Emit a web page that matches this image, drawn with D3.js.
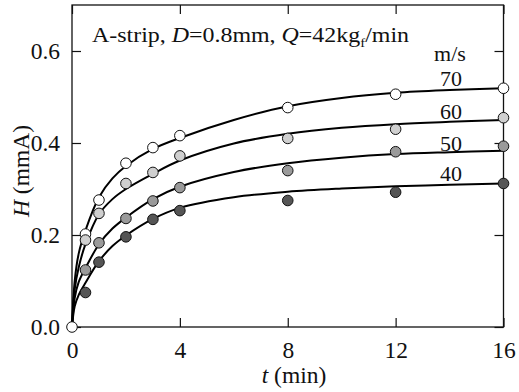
<!DOCTYPE html>
<html><head><meta charset="utf-8">
<script src="https://cdn.jsdelivr.net/npm/d3@7/dist/d3.min.js"></script>
<style>body{margin:0;background:#fff}svg{display:block}</style>
</head><body><svg id="c" width="519" height="392"></svg>
<script>
// ---- data ----
const speeds = ["70", "60", "50", "40"];
const fills = ["#ffffff", "#cfcfcf", "#9a9a9a", "#555555"];
const tPoints = [0.5, 1, 2, 3, 4, 8, 12, 16];
const h70 = [0.202, 0.276, 0.356, 0.390, 0.416, 0.477, 0.506, 0.519];
const h60 = [0.189, 0.247, 0.312, 0.336, 0.372, 0.410, 0.430, 0.455];
const h50 = [0.124, 0.183, 0.236, 0.274, 0.303, 0.340, 0.381, 0.393];
const h40 = [0.075, 0.141, 0.196, 0.234, 0.253, 0.275, 0.293, 0.312];
const originPoint = [0, 0];
// fitted curves
const tCurve = [0, 0.1, 0.25, 0.5, 1, 1.5, 2, 3, 4, 6, 8, 10, 12, 14, 16];
const c70 = [0, 0.100, 0.160, 0.210, 0.282, 0.323, 0.350, 0.387, 0.411, 0.450, 0.480, 0.498, 0.509, 0.515, 0.519];
const c60 = [0, 0.082, 0.130, 0.180, 0.245, 0.278, 0.300, 0.333, 0.362, 0.399, 0.420, 0.433, 0.441, 0.446, 0.450];
const c50 = [0, 0.063, 0.098, 0.128, 0.180, 0.214, 0.238, 0.278, 0.305, 0.337, 0.356, 0.368, 0.376, 0.380, 0.383];
const c40 = [0, 0.045, 0.070, 0.096, 0.143, 0.176, 0.199, 0.235, 0.259, 0.282, 0.294, 0.301, 0.306, 0.309, 0.312];
const xTicks = [0, 4, 8, 12, 16];
const yTicks = [0, 0.2, 0.4, 0.6];

const pts = [h70, h60, h50, h40];
const curves = [c70, c60, c50, c40];
const FONT = "'Liberation Serif', 'Times New Roman', Times, serif";

const svg = d3.select("#c");
const L = 72, R = 503.5, T = 5, B = 327;
const x = d3.scaleLinear().domain([0, 16]).range([L, R]);
const y = d3.scaleLinear().domain([0, 0.7]).range([B, T]);

// axes (ticks inward on all sides)
const tl = 9;
svg.append("g").attr("transform", `translate(0,${B})`)
  .call(d3.axisBottom(x).tickValues(xTicks).tickSize(-tl).tickPadding(14).tickFormat(d3.format("d")))
  .call(g => { g.select(".domain").remove(); g.selectAll("text").attr("dy", "0.71em"); });
svg.append("g").attr("transform", `translate(0,${T})`)
  .call(d3.axisTop(x).tickValues(xTicks).tickSize(-tl).tickFormat(""))
  .call(g => g.select(".domain").remove());
svg.append("g").attr("transform", `translate(${L},0)`)
  .call(d3.axisLeft(y).tickValues(yTicks).tickSize(-tl).tickPadding(12).tickFormat(d3.format(".1f")))
  .call(g => g.select(".domain").remove());
svg.append("g").attr("transform", `translate(${R},0)`)
  .call(d3.axisRight(y).tickValues(yTicks).tickSize(-tl).tickFormat(""))
  .call(g => g.select(".domain").remove());
svg.selectAll(".tick line").attr("stroke", "#111").attr("stroke-width", 1.2);
svg.selectAll(".tick text").style("fill", "#111").style("font-family", FONT).style("font-size", "23.5px");

svg.append("rect").attr("x", L).attr("y", T).attr("width", R - L).attr("height", B - T)
  .attr("fill", "none").attr("stroke", "#111").attr("stroke-width", 1.3);

// curves
const line = d3.line().x(d => x(d[0])).y(d => y(d[1])).curve(d3.curveCatmullRom.alpha(0.5));
curves.forEach(c => {
  svg.append("path").datum(tCurve.map((t, i) => [t, c[i]]))
    .attr("d", line).attr("fill", "none").attr("stroke", "#000").attr("stroke-width", 2);
});

// points
pts.forEach((s, k) => {
  svg.append("g").selectAll("circle").data(tPoints.map((t, i) => [t, s[i]])).join("circle")
    .attr("cx", d => x(d[0])).attr("cy", d => y(d[1])).attr("r", 5.3)
    .attr("fill", fills[k]).attr("stroke", "#111").attr("stroke-width", 1);
});
svg.append("circle").attr("cx", x(originPoint[0])).attr("cy", y(originPoint[1])).attr("r", 5.3)
  .attr("fill", "#fff").attr("stroke", "#111").attr("stroke-width", 1);

// labels
function txt(sel) { return sel.style("font-family", FONT).style("fill", "#111"); }
const title = txt(svg.append("text")).attr("transform", "translate(92,41.5) scale(1.14,1)").style("font-size", "21px");
title.append("tspan").text("A-strip, ");
title.append("tspan").attr("font-style", "italic").text("D");
title.append("tspan").text("=0.8mm, ");
title.append("tspan").attr("font-style", "italic").text("Q");
title.append("tspan").text("=42kg");
title.append("tspan").style("font-size", "13px").attr("dy", 5).text("f");
title.append("tspan").attr("dy", -5).text("/min");

txt(svg.append("text")).attr("x", 450).attr("y", 61).attr("text-anchor", "middle").style("font-size", "22px").text("m/s");
const lblBase = [0.524, 0.452, 0.383, 0.317];
speeds.forEach((s, k) => {
  txt(svg.append("text")).attr("x", 451).attr("y", y(lblBase[k])).attr("text-anchor", "middle").style("font-size", "22px").text(s);
});

const xl = txt(svg.append("text")).attr("x", 294).attr("y", 383).attr("text-anchor", "middle").style("font-size", "23.5px");
xl.append("tspan").attr("font-style", "italic").text("t");
xl.append("tspan").text(" (min)");
const yl = txt(svg.append("text")).attr("transform", "translate(29,171) rotate(-90)").attr("text-anchor", "middle").style("font-size", "23.5px");
yl.append("tspan").attr("font-style", "italic").text("H");
yl.append("tspan").text(" (mmA)");
</script></body></html>
